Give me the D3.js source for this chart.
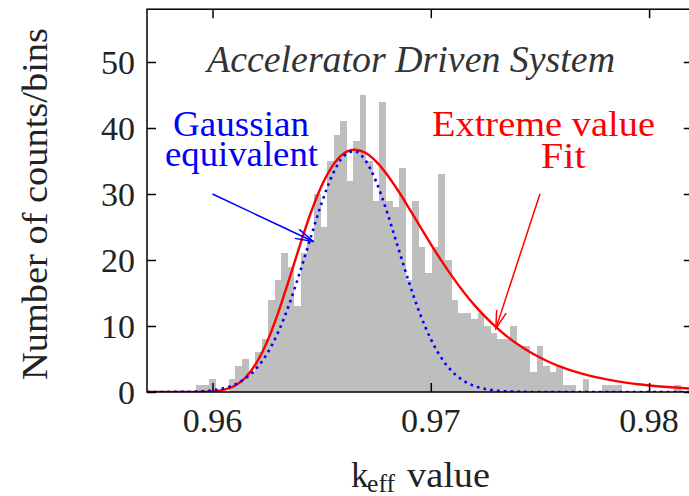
<!DOCTYPE html>
<html>
<head>
<meta charset="utf-8">
<script src="https://cdn.jsdelivr.net/npm/d3@7"></script>
<style>
  html, body { margin: 0; padding: 0; background: #fff; }
  svg { display: block; }
  text { font-family: "Liberation Serif", "DejaVu Serif", serif; }
</style>
</head>
<body>
<svg id="chart" width="689" height="496"></svg>
<script>
// ---------- data ----------
const binStart = 0.95925;
const binWidth = 0.0003;
const binCounts = [
  1, 1, 2, 0, 0, 2, 4, 5, 3, 6,
  8, 14, 17, 21, 19, 13, 21, 23, 30, 25,
  35, 39, 41, 32, 38, 45, 35, 29, 44, 29,
  28, 34, 17, 29, 22, 18, 22, 33, 20, 14,
  12, 12, 11, 12, 10, 9, 8, 8, 10, 7,
  7, 3, 7, 4, 3, 4, 1, 1, 0, 2,
  0, 0, 1, 1, 1, 0, 0, 0, 0, 0,
  0, 0, 0, 1, 0, 0
];
const curveX = [
  0.9570, 0.9575, 0.9580, 0.9585, 0.9590, 0.9595, 0.9600, 0.9605, 0.9610, 0.9615,
  0.9620, 0.9625, 0.9630, 0.9635, 0.9640, 0.9645, 0.9650, 0.9655, 0.9660, 0.9665,
  0.9670, 0.9675, 0.9680, 0.9685, 0.9690, 0.9695, 0.9700, 0.9705, 0.9710, 0.9715,
  0.9720, 0.9725, 0.9730, 0.9735, 0.9740, 0.9745, 0.9750, 0.9755, 0.9760, 0.9765,
  0.9770, 0.9775, 0.9780, 0.9785, 0.9790, 0.9795, 0.9800, 0.9805, 0.9810, 0.9815,
  0.9820
];
const extremeFit = [
  0, 0, 0, 0, 0, 0.02, 0.09, 0.31, 0.91, 2.15,
  4.32, 7.61, 11.92, 16.96, 22.18, 27.12, 31.26, 34.27, 36.11, 36.71,
  36.24, 34.91, 32.93, 30.53, 27.87, 25.13, 22.42, 19.83, 17.40, 15.17,
  13.16, 11.37, 9.78, 8.39, 7.18, 6.13, 5.22, 4.43, 3.76, 3.19,
  2.71, 2.29, 1.94, 1.64, 1.39, 1.17, 0.99, 0.84, 0.71, 0.60,
  0.50
];
const gaussFit = [
  0, 0, 0.01, 0.02, 0.05, 0.12, 0.27, 0.56, 1.09, 2.03,
  3.53, 5.81, 9.00, 13.15, 18.09, 23.43, 28.62, 32.93, 35.71, 36.48,
  35.11, 31.86, 27.22, 21.91, 16.63, 11.89, 8.02, 5.09, 3.04, 1.72,
  0.91, 0.46, 0.21, 0.09, 0.04, 0.01, 0, 0, 0, 0,
  0, 0, 0, 0, 0, 0, 0, 0, 0, 0,
  0
];
const xTicks = [0.96, 0.97, 0.98];
const yTicks = [0, 10, 20, 30, 40, 50];
const xDomain = [0.957, 0.982];
const yDomain = [0, 58];
const gaussArrow = { from: [0.9600, 30.0], to: [0.96462, 22.8] };
const fitArrow   = { from: [0.9750, 30.0], to: [0.97298, 9.6] };

// ---------- layout ----------
const plotLeft = 147, plotTop = 9.2, plotBottom = 392;
const pxPerUnit = 21830;
const plotRight = plotLeft + (xDomain[1] - xDomain[0]) * pxPerUnit;

const svg = d3.select("#chart");
const x = d3.scaleLinear().domain(xDomain).range([plotLeft, plotRight]);
const y = d3.scaleLinear().domain(yDomain).range([plotBottom, plotTop]);

const defs = svg.append("defs");
defs.append("clipPath").attr("id", "plotclip")
  .append("rect").attr("x", plotLeft).attr("y", plotTop)
  .attr("width", plotRight - plotLeft).attr("height", plotBottom - plotTop);

function headMarker(id, color) {
  defs.append("marker").attr("id", id)
    .attr("markerUnits", "userSpaceOnUse")
    .attr("viewBox", "0 0 20 12")
    .attr("markerWidth", 20).attr("markerHeight", 12)
    .attr("refX", 19).attr("refY", 6).attr("orient", "auto")
    .append("path").attr("d", "M1,1 L19,6 L1,11")
    .attr("fill", "none").attr("stroke", color).attr("stroke-width", 1.5);
}
headMarker("headBlue", "#0000ff");
headMarker("headRed", "#ff0000");

const plot = svg.append("g").attr("clip-path", "url(#plotclip)");

// histogram bars
plot.append("g").selectAll("rect")
  .data(binCounts.map((c, i) => ({ c, x0: binStart + i * binWidth, x1: binStart + (i + 1) * binWidth })).filter(d => d.c > 0))
  .join("rect")
  .attr("x", d => x(d.x0))
  .attr("width", d => x(d.x1) - x(d.x0))
  .attr("y", d => y(d.c))
  .attr("height", d => y(0) - y(d.c))
  .attr("fill", "#bebebe")
  .attr("shape-rendering", "crispEdges");

// frame + ticks
svg.append("rect").attr("x", plotLeft).attr("y", plotTop)
  .attr("width", plotRight - plotLeft).attr("height", plotBottom - plotTop)
  .attr("fill", "none").attr("stroke", "#000").attr("stroke-width", 1.5);

const xAxisB = d3.axisBottom(x).tickValues(xTicks).tickSize(-9).tickFormat(() => "");
const xAxisT = d3.axisTop(x).tickValues(xTicks).tickSize(-9).tickFormat(() => "");
const yAxisL = d3.axisLeft(y).tickValues(yTicks).tickSize(-9).tickFormat(() => "");
const yAxisR = d3.axisRight(y).tickValues(yTicks).tickSize(-9).tickFormat(() => "");
function styleAxis(g) {
  g.select(".domain").remove();
  g.selectAll(".tick line").attr("stroke", "#000").attr("stroke-width", 1.5);
}
svg.append("g").attr("transform", `translate(0,${plotBottom})`).call(xAxisB).call(styleAxis);
svg.append("g").attr("transform", `translate(0,${plotTop})`).call(xAxisT).call(styleAxis);
svg.append("g").attr("transform", `translate(${plotLeft},0)`).call(yAxisL).call(styleAxis);
svg.append("g").attr("transform", `translate(${plotRight},0)`).call(yAxisR).call(styleAxis);

// curves
const pts = (vals) => curveX.map((v, i) => [v, vals[i]]);
const line = d3.line().x(d => x(d[0])).y(d => y(d[1])).curve(d3.curveMonotoneX);
plot.append("path").attr("d", line(pts(extremeFit)))
  .attr("fill", "none").attr("stroke", "#ff0000").attr("stroke-width", 2.4);
plot.append("path").attr("d", line(pts(gaussFit)))
  .attr("fill", "none").attr("stroke", "#0000ff").attr("stroke-width", 2.6)
  .attr("stroke-dasharray", "2.6,4.2");

// arrows
svg.append("line")
  .attr("x1", x(gaussArrow.from[0])).attr("y1", y(gaussArrow.from[1]))
  .attr("x2", x(gaussArrow.to[0])).attr("y2", y(gaussArrow.to[1]))
  .attr("stroke", "#0000ff").attr("stroke-width", 1.5).attr("marker-end", "url(#headBlue)");
svg.append("line")
  .attr("x1", x(fitArrow.from[0])).attr("y1", y(fitArrow.from[1]))
  .attr("x2", x(fitArrow.to[0])).attr("y2", y(fitArrow.to[1]))
  .attr("stroke", "#ff0000").attr("stroke-width", 1.5).attr("marker-end", "url(#headRed)");

// tick labels
svg.append("g").selectAll("text").data(xTicks).join("text")
  .attr("x", d => x(d)).attr("y", 432)
  .attr("text-anchor", "middle").attr("font-size", 34).attr("fill", "#222")
  .text(d => d3.format(".2f")(d));
svg.append("g").selectAll("text").data(yTicks).join("text")
  .attr("x", 135).attr("y", d => y(d) + 11.5)
  .attr("text-anchor", "end").attr("font-size", 34).attr("fill", "#222")
  .text(d => d);

// axis titles
const xl = svg.append("g").attr("fill", "#222");
xl.append("text").attr("x", 351).attr("y", 487).attr("font-size", 35).text("k");
xl.append("text").attr("x", 367).attr("y", 492).attr("font-size", 25)
  .attr("textLength", 28).attr("lengthAdjust", "spacingAndGlyphs").text("eff");
xl.append("text").attr("x", 407).attr("y", 487).attr("font-size", 35)
  .attr("textLength", 83).attr("lengthAdjust", "spacingAndGlyphs").text("value");

svg.append("text")
  .attr("transform", "translate(47,204) rotate(-90)")
  .attr("text-anchor", "middle").attr("font-size", 35).attr("fill", "#222")
  .attr("textLength", 352).attr("lengthAdjust", "spacingAndGlyphs")
  .text("Number of counts/bins");

// annotations
svg.append("text").attr("x", 207).attr("y", 72)
  .attr("font-size", 37).attr("font-style", "italic").attr("fill", "#333")
  .attr("textLength", 408).attr("lengthAdjust", "spacingAndGlyphs")
  .text("Accelerator Driven System");
svg.append("text").attr("x", 173).attr("y", 136)
  .attr("font-size", 36).attr("fill", "#0000ff")
  .attr("textLength", 136).attr("lengthAdjust", "spacingAndGlyphs")
  .text("Gaussian");
svg.append("text").attr("x", 165).attr("y", 165.5)
  .attr("font-size", 36).attr("fill", "#0000ff")
  .attr("textLength", 153).attr("lengthAdjust", "spacingAndGlyphs")
  .text("equivalent");
svg.append("text").attr("x", 432).attr("y", 136)
  .attr("font-size", 36).attr("fill", "#ff0000")
  .attr("textLength", 223).attr("lengthAdjust", "spacingAndGlyphs")
  .text("Extreme value");
svg.append("text").attr("x", 541).attr("y", 168.3)
  .attr("font-size", 36).attr("fill", "#ff0000")
  .attr("textLength", 44.5).attr("lengthAdjust", "spacingAndGlyphs")
  .text("Fit");
</script>
</body>
</html>
